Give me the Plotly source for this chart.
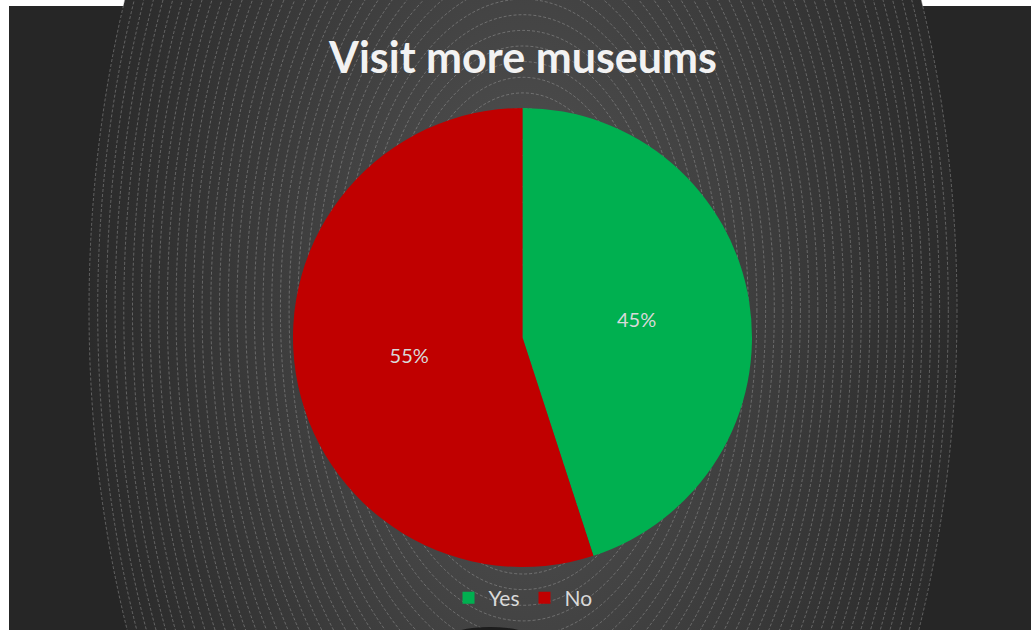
import base64
import plotly.graph_objects as go

# Survey answers
labels = ["Yes", "No"]
shares = [45, 55]
slice_colors = ["#00B050", "#C00000"]
title_text = "Visit more museums"

W, H = 1031, 630


def backdrop_svg():
    """Dark chart area with a soft elliptical glow and faint dashed rings."""
    cx, cy, rx, ry = 523, 310, 434, 780
    parts = [
        f'<svg xmlns="http://www.w3.org/2000/svg" width="{W}" height="{H}" viewBox="0 0 {W} {H}">',
        '<defs><radialGradient id="glow" cx="0.5" cy="0.5" r="0.5">'
        '<stop offset="0" stop-color="#545454"/>'
        '<stop offset="1" stop-color="#2b2b2b"/>'
        '</radialGradient></defs>',
        f'<rect x="0" y="0" width="{W}" height="{H}" fill="#ffffff"/>',
        f'<rect x="9" y="6" width="{W - 9}" height="{H - 6}" fill="#262626"/>',
        f'<ellipse cx="{cx}" cy="{cy}" rx="{rx}" ry="{ry}" fill="url(#glow)"/>',
    ]
    step = 8.7
    k = 0
    while rx - k * step > 20:
        r_x = rx - k * step
        r_y = r_x * ry / rx
        parts.append(
            f'<ellipse cx="{cx}" cy="{cy}" rx="{r_x:.1f}" ry="{r_y:.1f}" fill="none" '
            f'stroke="#a0a0a0" stroke-width="0.8" stroke-opacity="0.6" stroke-dasharray="3 2"/>'
        )
        k += 1
    parts.append('<ellipse cx="490" cy="641" rx="46" ry="14" fill="#1c1c1c"/>')
    parts.append('</svg>')
    return "".join(parts)


bg_uri = "data:image/svg+xml;base64," + base64.b64encode(backdrop_svg().encode()).decode()

fig = go.Figure(
    go.Pie(
        labels=labels,
        values=shares,
        sort=False,
        direction="clockwise",
        rotation=0,
        marker=dict(colors=slice_colors, line=dict(width=0)),
        textinfo="percent",
        texttemplate="%{percent:.0%}",
        textposition="inside",
        insidetextorientation="horizontal",
        textfont=dict(family="Lato", size=20, color="#D9D9D9"),
        domain=dict(x=[14 / W, 1], y=[63 / H, 522 / H]),
        hoverinfo="label+percent",
    )
)

fig.update_layout(
    width=W,
    height=H,
    margin=dict(l=0, r=0, t=0, b=0),
    paper_bgcolor="#ffffff",
    plot_bgcolor="rgba(0,0,0,0)",
    images=[
        dict(
            source=bg_uri,
            xref="paper",
            yref="paper",
            x=0,
            y=1,
            sizex=1,
            sizey=1,
            sizing="stretch",
            xanchor="left",
            yanchor="top",
            layer="below",
        )
    ],
    title=dict(
        text=f"<b>{title_text}</b>",
        font=dict(family="Lato", size=43, color="#F2F2F2"),
        x=523 / W,
        xanchor="center",
        y=1 - 58 / H,
        yanchor="middle",
    ),
    showlegend=True,
    legend=dict(
        orientation="h",
        x=523 / W,
        xanchor="center",
        y=32 / H,
        yanchor="middle",
        font=dict(family="Lato", size=21, color="#D9D9D9"),
        bgcolor="rgba(0,0,0,0)",
    ),
)

fig.write_html("out.html")
